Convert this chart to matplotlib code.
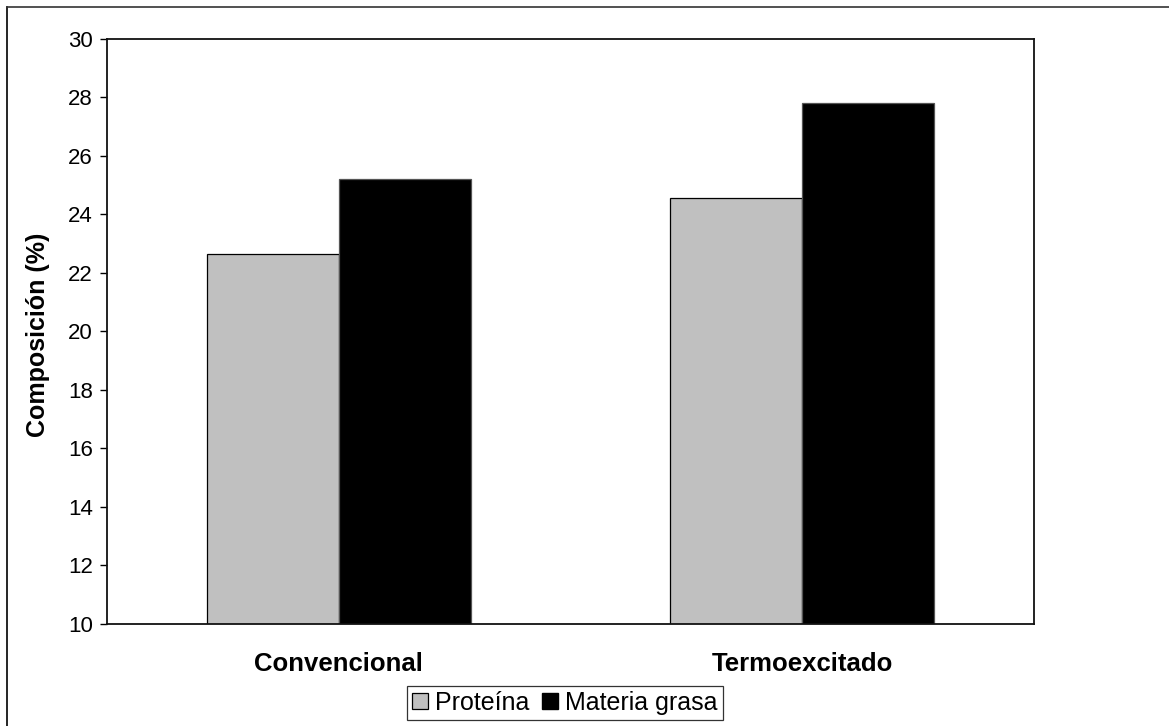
import matplotlib
matplotlib.use("Agg")
import matplotlib.pyplot as plt
from matplotlib.lines import Line2D
import numpy as np

plt.rcParams['font.family'] = ['Liberation Sans', 'DejaVu Sans']

categories = ["Convencional", "Termoexcitado"]
proteina = [22.63, 24.57]
materia_grasa = [25.20, 27.80]
series_names = ["Proteína", "Materia grasa"]
yticks = [10, 12, 14, 16, 18, 20, 22, 24, 26, 28, 30]

W, H = 1169, 726
fig = plt.figure(figsize=(W / 100, H / 100), dpi=100)

# axes placement in pixels
left, right, top, bottom = 107, 1034, 39, 623.5
ax = fig.add_axes([left / W, 1 - bottom / H, (right - left) / W, (bottom - top) / H])

x = np.arange(len(categories))
bw = 0.285
ax.bar(x - bw / 2, proteina, bw, color="#c0c0c0", edgecolor="black",
       linewidth=0.9, label=series_names[0], zorder=2)
ax.bar(x + bw / 2, materia_grasa, bw, color="black", edgecolor="#555555",
       linewidth=0.9, label=series_names[1], zorder=2)

ax.set_xlim(-0.5, 1.5)
ax.set_ylim(10, 30)
ax.set_yticks(yticks)
ax.set_yticklabels([str(t) for t in yticks], fontsize=16)
ax.tick_params(axis='y', direction='out', length=5, width=1, pad=5)
ax.tick_params(axis='x', length=0)
ax.set_xticks(x)
ax.set_xticklabels([])
for xi, c in zip(x, categories):
    ax.text(xi, -0.07, c, transform=ax.get_xaxis_transform(), ha='center',
            va='center', fontsize=18.5, fontweight='bold')

for s in ax.spines.values():
    s.set_linewidth(1.3)
    s.set_color("#111111")

fig.text(38 / W, 1 - 335 / H, "Composición (%)", rotation=90, ha='center',
         va='center', fontsize=18, fontweight='bold')

handles = [
    Line2D([], [], marker='s', linestyle='none', markersize=11,
           markerfacecolor="#c0c0c0", markeredgecolor="black", markeredgewidth=0.9),
    Line2D([], [], marker='s', linestyle='none', markersize=11,
           markerfacecolor="black", markeredgecolor="black"),
]
leg = fig.legend(handles, series_names, loc='center', bbox_to_anchor=(565 / W, 1 - 703 / H),
                 ncol=2, frameon=True, fancybox=False, fontsize=18,
                 handlelength=0.6, handletextpad=0.3, columnspacing=0.55,
                 borderpad=0.2, edgecolor='black', borderaxespad=0)
leg.get_frame().set_linewidth(0.9)

# outer chart border (left and top edges)
fig.add_artist(Line2D([7 / W, 7 / W], [0, 1 - 7 / H], transform=fig.transFigure,
                      color='black', linewidth=1.2))
fig.add_artist(Line2D([7 / W, 1], [1 - 7 / H, 1 - 7 / H], transform=fig.transFigure,
                      color='#333333', linewidth=1.2))

fig.savefig("out.png", dpi=100)
